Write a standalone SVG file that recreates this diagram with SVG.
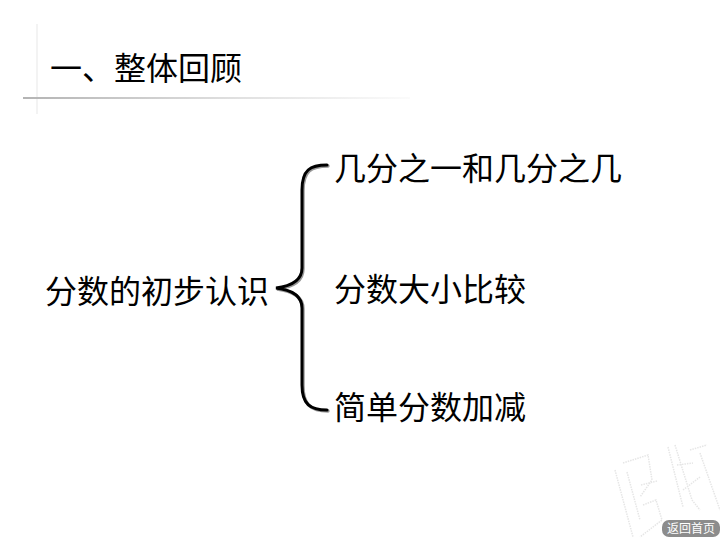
<svg xmlns="http://www.w3.org/2000/svg" width="720" height="540" viewBox="0 0 720 540">
<defs>
<linearGradient id="rule" x1="0" x2="1" y1="0" y2="0"><stop offset="0" stop-color="#b4b4b4"/><stop offset="0.55" stop-color="#e0e0e0"/><stop offset="1" stop-color="#fbfbfb"/></linearGradient>
<filter id="soft" x="-20%" y="-20%" width="140%" height="140%"><feGaussianBlur stdDeviation="0.6"/></filter>
</defs>
<style>
text{font-family:"Noto Sans CJK SC","Liberation Serif",serif;font-size:32px;fill:#000}
.wm{fill:none;stroke:#e6e6e6;stroke-width:1.5;stroke-dasharray:1.5 1}
.brace{fill:none;stroke-linecap:round}
</style>
<rect width="720" height="540" fill="#fff"/>
<g id="decor">
<rect x="36" y="24" width="2" height="90" fill="#f3f3f3"/>
<rect x="23" y="97" width="387" height="2" fill="url(#rule)"/>
<g id="watermark">
<path class="wm" d="M615 470L633 537M623 463L648 455L652 480L640 497M627 472L640 520M641 485L657 481M643 505L656 500L662 520L640 537"/>
<path class="wm" d="M668 447L683 507M675 445L692 500L700 510M690 450L707 445M677 465L693 463M683 490L700 477M700 453L720 510"/>
</g>
</g>
<g id="title"><text x="50" y="80">一、整体回顾</text></g>
<g id="connectors">
<path class="brace" d="M327 165C310 165 302 170 302 190V268C302 280 292 286 276 288C292 290 302 296 302 308V385C302 404 310 410 327 410" stroke="#999" stroke-width="3.4" transform="translate(1 1)" filter="url(#soft)"/>
<path class="brace" d="M327 165C310 165 302 170 302 190V268C302 280 292 286 276 288C292 290 302 296 302 308V385C302 404 310 410 327 410" stroke="#000" stroke-width="3"/>
</g>
<g id="node-root"><text x="45" y="303">分数的初步认识</text></g>
<g id="node-1"><text x="334" y="180">几分之一和几分之几</text></g>
<g id="node-2"><text x="334" y="301">分数大小比较</text></g>
<g id="node-3"><text x="334" y="419">简单分数加减</text></g>
<g id="button">
<rect x="662" y="520" width="58" height="17" rx="7" fill="#8c8c8c"/>
<text x="667" y="533" style="font-size:12px;fill:#fff">返回首页</text>
</g>
</svg>
